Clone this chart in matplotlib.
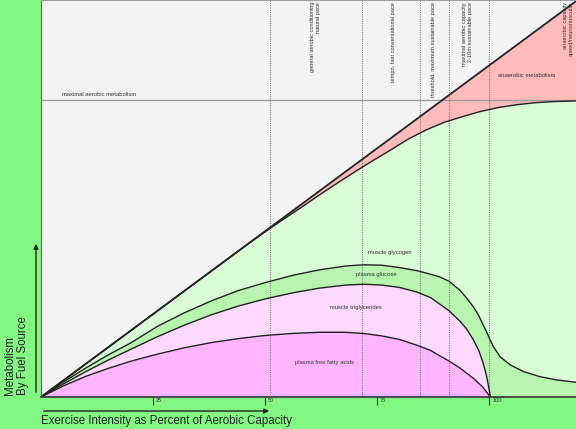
import matplotlib
matplotlib.use('Agg')
import matplotlib.pyplot as plt
from matplotlib.transforms import ScaledTranslation

plt.rcParams['font.family'] = ['Liberation Sans', 'DejaVu Sans']

# total metabolism (straight line)
total_x = [0, 120]
total_y = [0, 100.2]

# aerobic metabolism (top of green)
aer_x = [0, 46, 50, 54, 58, 62, 66, 70, 74, 78, 82, 86, 90, 94, 98, 102, 106, 110, 114, 120]
aer_y = [0, 38.4, 41.6, 44.7, 47.7, 50.8, 53.8, 56.7, 59.5, 62.2, 65.0, 67.3, 69.2, 70.6, 71.9,
         72.9, 73.6, 74.1, 74.4, 74.6]

# top of plasma glucose band
glu_x = [0, 5, 10, 15, 20, 26, 32, 38, 44, 50, 56, 62, 68, 72, 76, 80, 84, 87, 89.1, 91, 93.5, 95,
         96.5, 97.7, 98.7, 99.5, 100.1, 101, 102.5, 104.7, 107.7, 111.4, 115.1, 119.4]
glu_y = [0, 3.8, 7.3, 10.6, 13.6, 17.8, 21.2, 24.2, 26.8, 28.8, 30.6, 32.0, 33.0, 33.3, 33.2, 32.6,
         31.8, 30.9, 30.2, 29.2, 26.9, 24.9, 22.7, 20.5, 18.1, 16.3, 14.7, 12.6, 10.1, 8.1, 6.4, 5.1,
         4.3, 3.7]

# top of muscle triglycerides band
tri_x = [0, 5, 10, 15, 20, 26, 32, 38, 44, 50, 56, 62, 68, 72, 76, 80, 84, 87, 89.1, 91, 93.5, 95,
         96.5, 97.7, 98.7, 99.5, 100, 100.3]
tri_y = [0, 3.3, 6.4, 9.3, 12.0, 15.2, 18.1, 20.7, 22.9, 24.7, 26.2, 27.4, 28.2, 28.4, 28.2, 27.6,
         26.4, 25.0, 23.3, 21.8, 19.1, 17.1, 14.4, 11.7, 8.5, 5.0, 2.0, 0]

# top of plasma free fatty acids band
ffa_x = [0, 5, 10, 15, 20, 26, 32, 38, 44, 50, 56, 62, 68, 72, 76, 80, 84, 87, 89.1, 91, 93.5, 96.5,
         98.5, 100.3]
ffa_y = [0, 2.8, 5.2, 7.2, 9.0, 10.8, 12.4, 13.7, 14.7, 15.5, 16.0, 16.3, 16.3, 16.0, 15.4, 14.5,
         13.0, 11.7, 10.3, 9.1, 7.3, 4.7, 2.6, 0]

max_aerobic = 74.8
zone_lines = [51, 71.7, 84.6, 91, 100]
tick_pos = [25, 50, 75, 100]
tick_labels = ['25', '50', '75', '100']

zone_labels = ['general aerobic conditioning\nnatural pace',
               'tempo, fast conversational pace',
               'threshold, maximum sustainable pace',
               'maximal aerobic capacity\n2-10m sustainable pace',
               'anaerobic capacity\nspeed/neuromuscular']
zone_label_x = [61.3, 78.6, 87.6, 95.2, 117.7]

fuel_labels = ['muscle glycogen', 'plasma glucose', 'muscle triglycerides', 'plasma free fatty acids']
fuel_label_xy = [(77.9, 36.4), (74.8, 30.9), (70.3, 22.5), (63.2, 8.7)]

outer = '#82f782'
fig = plt.figure(figsize=(5.76, 4.29), dpi=100, facecolor=outer)
ax = fig.add_axes([41 / 576, 32 / 429, 535 / 576, 397 / 429])
ax.set_facecolor('#f3f3f3')

ax.fill_between(total_x, 0, total_y, color='#ffbaba', lw=0)
ax.fill_between(aer_x, 0, aer_y, color='#d9fbd6', lw=0)
ax.fill_between(glu_x, 0, glu_y, color='#b8f6b0', lw=0)
ax.fill_between(tri_x, 0, tri_y, color='#ffd8ff', lw=0)
ax.fill_between(ffa_x, 0, ffa_y, color='#ffb5ff', lw=0)

for xv in zone_lines:
    ax.axvline(xv, color='#808080', lw=0.8, ls=(0, (1, 1)))
ax.axhline(max_aerobic, color='#9a9a9a', lw=0.9)

ax.plot(total_x, total_y, color='#222222', lw=1.3)
for xs, ys in [(aer_x, aer_y), (glu_x, glu_y), (tri_x, tri_y), (ffa_x, ffa_y)]:
    ax.plot(xs, ys, color='#222222', lw=1.0)

ax.set_xlim(0, 119.4)
ax.set_ylim(0, 100)

for lab, xv in zip(zone_labels, zone_label_x):
    ax.text(xv, 99.5, lab, rotation=90, ha='center', va='top', multialignment='right',
            fontsize=4.1, color='#333333', linespacing=1.1)
ax.text(108.4, 80.9, 'anaerobic metabolism', ha='center', va='center', fontsize=4.2, color='#333333')
ax.text(4.7, 76.1, 'maximal aerobic metabolism', ha='left', va='center', fontsize=4.2, color='#333333')
for lab, (xv, yv) in zip(fuel_labels, fuel_label_xy):
    ax.text(xv, yv, lab, ha='center', va='center', fontsize=4.2, color='#333333')

ax.set_xticks(tick_pos)
ax.set_xticklabels(tick_labels, fontsize=4, color='#333333')
ax.set_yticks([])
ax.tick_params(axis='x', length=6, width=0.8, color='#333333', pad=-5.5)
for t in ax.get_xticklabels():
    t.set_horizontalalignment('left')
    t.set_transform(t.get_transform() + ScaledTranslation(2.2 / 72, 0, fig.dpi_scale_trans))

ax.spines['right'].set_visible(False)
ax.spines['top'].set_color('#a0a0a0')
ax.spines['left'].set_color('#4f6f4f')
ax.spines['bottom'].set_color('#333333')
ax.spines['bottom'].set_linewidth(1.2)

# axis arrows and titles
ax.annotate('', xy=(272, 18), xytext=(41, 18), xycoords='figure pixels', textcoords='figure pixels',
            arrowprops=dict(arrowstyle='-|>', color='#222222', lw=1, mutation_scale=7))
ax.annotate('', xy=(36, 188), xytext=(36, 34), xycoords='figure pixels', textcoords='figure pixels',
            arrowprops=dict(arrowstyle='-|>', color='#222222', lw=1, mutation_scale=7))
fig.text(41 / 576, 8 / 429, 'Exercise Intensity as Percent of Aerobic Capacity', ha='left', va='center',
         fontsize=8.3, color='#222222')
fig.text(16.7 / 576, 34 / 429, 'Metabolism\nBy Fuel Source', rotation=90, ha='center', va='bottom',
         multialignment='left', fontsize=8.3, color='#222222', linespacing=1.05)

fig.savefig('out.png', dpi=100, facecolor=fig.get_facecolor())
